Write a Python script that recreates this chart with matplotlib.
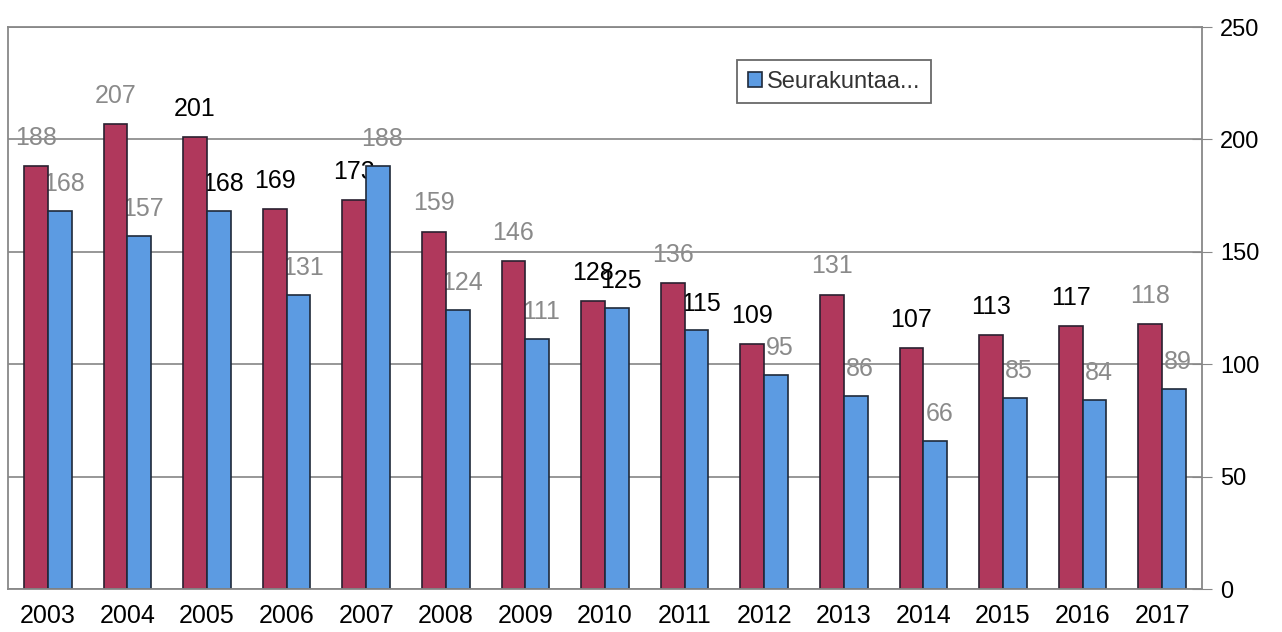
import matplotlib
matplotlib.use("Agg")
import matplotlib.pyplot as plt
import numpy as np

years = ["2003", "2004", "2005", "2006", "2007", "2008", "2009", "2010",
         "2011", "2012", "2013", "2014", "2015", "2016", "2017"]
series_a = [188, 207, 201, 169, 173, 159, 146, 128, 136, 109, 131, 107, 113, 117, 118]
series_b = [168, 157, 168, 131, 188, 124, 111, 125, 115, 95, 86, 66, 85, 84, 89]
dark_a = [False, False, True, True, True, False, False, True, False, True, False, True, True, True, False]
dark_b = [False, False, True, False, False, False, False, True, True, False, False, False, False, False, False]
legend_label = "Seurakuntaa..."
yticks = [0, 50, 100, 150, 200, 250]

plt.rcParams['font.family'] = ['Liberation Sans', 'DejaVu Sans']

fig = plt.figure(figsize=(12.82, 6.32), dpi=100)
ax = fig.add_axes([8/1282, 43/632, 1194/1282, 562/632])

x = np.arange(len(years))
w = 0.3
red = "#B0385C"
blue = "#5C9BE2"
ax.bar(x - w/2, series_a, w, color=red, edgecolor="#2a2030", linewidth=1.2, zorder=3)
ax.bar(x + w/2, series_b, w, color=blue, edgecolor="#1f2a3a", linewidth=1.2, zorder=3,
       label=legend_label)

for i in range(len(years)):
    ax.text(x[i] - w/2, series_a[i] + 12.5, str(series_a[i]), ha="center", va="center",
            fontsize=18, color="black" if dark_a[i] else "#8a8a8a", zorder=1)
    ax.text(x[i] + w/2 + 0.05, series_b[i] + 12, str(series_b[i]), ha="center", va="center",
            fontsize=18, color="black" if dark_b[i] else "#8a8a8a", zorder=1)

ax.set_xlim(-0.5, len(years) - 0.5)
ax.set_ylim(0, 250)
ax.yaxis.tick_right()
ax.set_yticks(yticks)
ax.set_yticklabels([str(t) for t in yticks], fontsize=17)
ax.tick_params(axis="y", direction="inout", length=14, color="#888888", pad=6)
ax.grid(axis="y", color="#8f8f8f", linewidth=1.3, zorder=1.5)
ax.set_axisbelow(False)
ax.set_xticks(x)
ax.set_xticklabels(years, fontsize=18)
ax.tick_params(axis="x", length=0, pad=11)
for s in ax.spines.values():
    s.set_color("#888888")
    s.set_linewidth(1.3)
    s.set_zorder(4)

leg = ax.legend(loc="upper left", bbox_to_anchor=(0.6106, 0.941), fontsize=17, frameon=True,
                fancybox=False, edgecolor="#444444", handlelength=0.6, handleheight=0.6,
                handletextpad=0.2, borderpad=0.45, borderaxespad=0)
leg.get_frame().set_linewidth(1.3)
leg.set_zorder(5)
for t in leg.get_texts():
    t.set_color("#333333")

fig.savefig("out.png", dpi=100)
